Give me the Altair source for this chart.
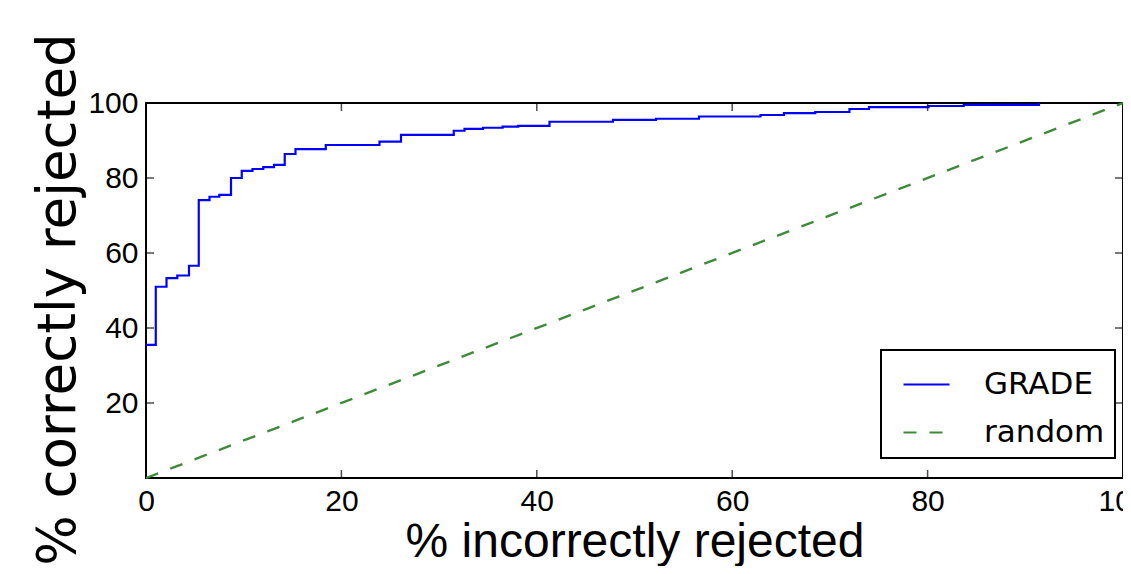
import altair as alt
import pandas as pd

# GRADE ROC-like step curve
fpr = [0, 1.0, 2.1, 3.2, 4.4, 5.4, 6.5, 7.5, 8.7, 9.8, 10.9, 12.0, 13.1, 14.2, 15.3,
       18.4, 23.9, 26.1, 31.5, 32.6, 34.5, 36.5, 38.1, 41.3, 47.8, 52.2, 56.6, 62.9,
       65.3, 68.5, 72.0, 74.0, 80.1, 83.7, 91.4]
tpr = [35.5, 51.0, 53.3, 54.0, 56.6, 74.1, 75.0, 75.5, 80.0, 81.9, 82.4, 82.9, 83.5,
       86.4, 87.7, 88.8, 89.7, 91.5, 92.6, 93.1, 93.4, 93.7, 93.9, 95.0, 95.5, 95.8,
       96.4, 96.8, 97.3, 97.6, 98.4, 98.9, 99.2, 99.5, 100.0]
rand_x = [0, 100]
rand_y = [0, 100]

series = ["GRADE", "random"]
colors = ["#0000ff", "#3f8a3a"]
dashes = [[1, 0], [13, 13]]

x_tick_values = [0, 20, 40, 60, 80, 100]
y_tick_values = [20, 40, 60, 80, 100]
inner_ticks = [20, 40, 60, 80]

roc = pd.DataFrame({"x": fpr, "y": tpr, "s": "GRADE"})
rnd = pd.DataFrame({"x": rand_x, "y": rand_y, "s": "random"})
ticks = pd.DataFrame({"t": inner_ticks})

xs = alt.Scale(domain=[0, 100], nice=False, zero=False)
ys = alt.Scale(domain=[0, 100], nice=False, zero=False)

x_axis = alt.Axis(values=x_tick_values, title="% incorrectly rejected", ticks=False,
                  domain=False, grid=False, labelFont="Liberation Sans", labelFontSize=30,
                  labelPadding=8, labelColor="black", labelFlush=False, labelOverlap=False,
                  titleFont="Liberation Sans", titleFontSize=48, titleFontWeight="normal",
                  titleColor="black", titleBaseline="alphabetic", titleY=78, format="d")
y_axis = alt.Axis(values=y_tick_values, title="% correctly rejected", ticks=False,
                  domain=False, grid=False, labelFont="Liberation Sans", labelFontSize=30,
                  labelPadding=8, labelColor="black", labelFlush=False, labelOverlap=False,
                  titleFont="DejaVu Sans", titleFontSize=53, titleFontWeight="normal",
                  titleColor="black", titlePadding=2, titleY=196, format="d")

color = alt.Color("s:N", scale=alt.Scale(domain=series, range=colors), legend=alt.Legend(title=None))
dash = alt.StrokeDash("s:N", scale=alt.Scale(domain=series, range=dashes), legend=alt.Legend(title=None))

grade = alt.Chart(roc).mark_line(interpolate="step-after", strokeWidth=2.2).encode(
    x=alt.X("x:Q", scale=xs, axis=x_axis),
    y=alt.Y("y:Q", scale=ys, axis=y_axis),
    color=color,
    strokeDash=dash,
)
random_line = alt.Chart(rnd).mark_line(strokeWidth=2.4).encode(
    x=alt.X("x:Q", scale=xs, axis=x_axis),
    y=alt.Y("y:Q", scale=ys, axis=y_axis),
    color=color,
    strokeDash=dash,
)

def vticks(v):
    return alt.Chart(ticks).mark_tick(orient="vertical", size=16, thickness=1.5,
                                      color="black", clip=True).encode(
        x=alt.X("t:Q", scale=xs, axis=x_axis),
        y=alt.YDatum(v, scale=ys, axis=y_axis),
    )

def hticks(v):
    return alt.Chart(ticks).mark_tick(orient="horizontal", size=16, thickness=1.5,
                                      color="black", clip=True).encode(
        y=alt.Y("t:Q", scale=ys, axis=y_axis),
        x=alt.XDatum(v, scale=xs, axis=x_axis),
    )

chart = alt.layer(
    random_line, grade, vticks(0), vticks(100), hticks(0), hticks(100)
).properties(
    width=977, height=375,
    autosize=alt.AutoSizeParams(type="none"),
    padding={"left": 138, "top": 95, "right": 0, "bottom": 88},
    background="white",
).configure_view(
    stroke="black", strokeWidth=2
).configure_legend(
    orient="none", legendX=735, legendY=247,
    fillColor="white", strokeColor="black", strokeWidth=2, cornerRadius=0,
    padding=10, rowPadding=8, symbolType="stroke", symbolSize=2116,
    symbolStrokeWidth=2.2, symbolOffset=11, labelOffset=33,
    labelFont="DejaVu Sans", labelFontSize=31, labelColor="black", labelLimit=400,
)

chart.save("out.html", embed_options={"renderer": "svg", "actions": False})
